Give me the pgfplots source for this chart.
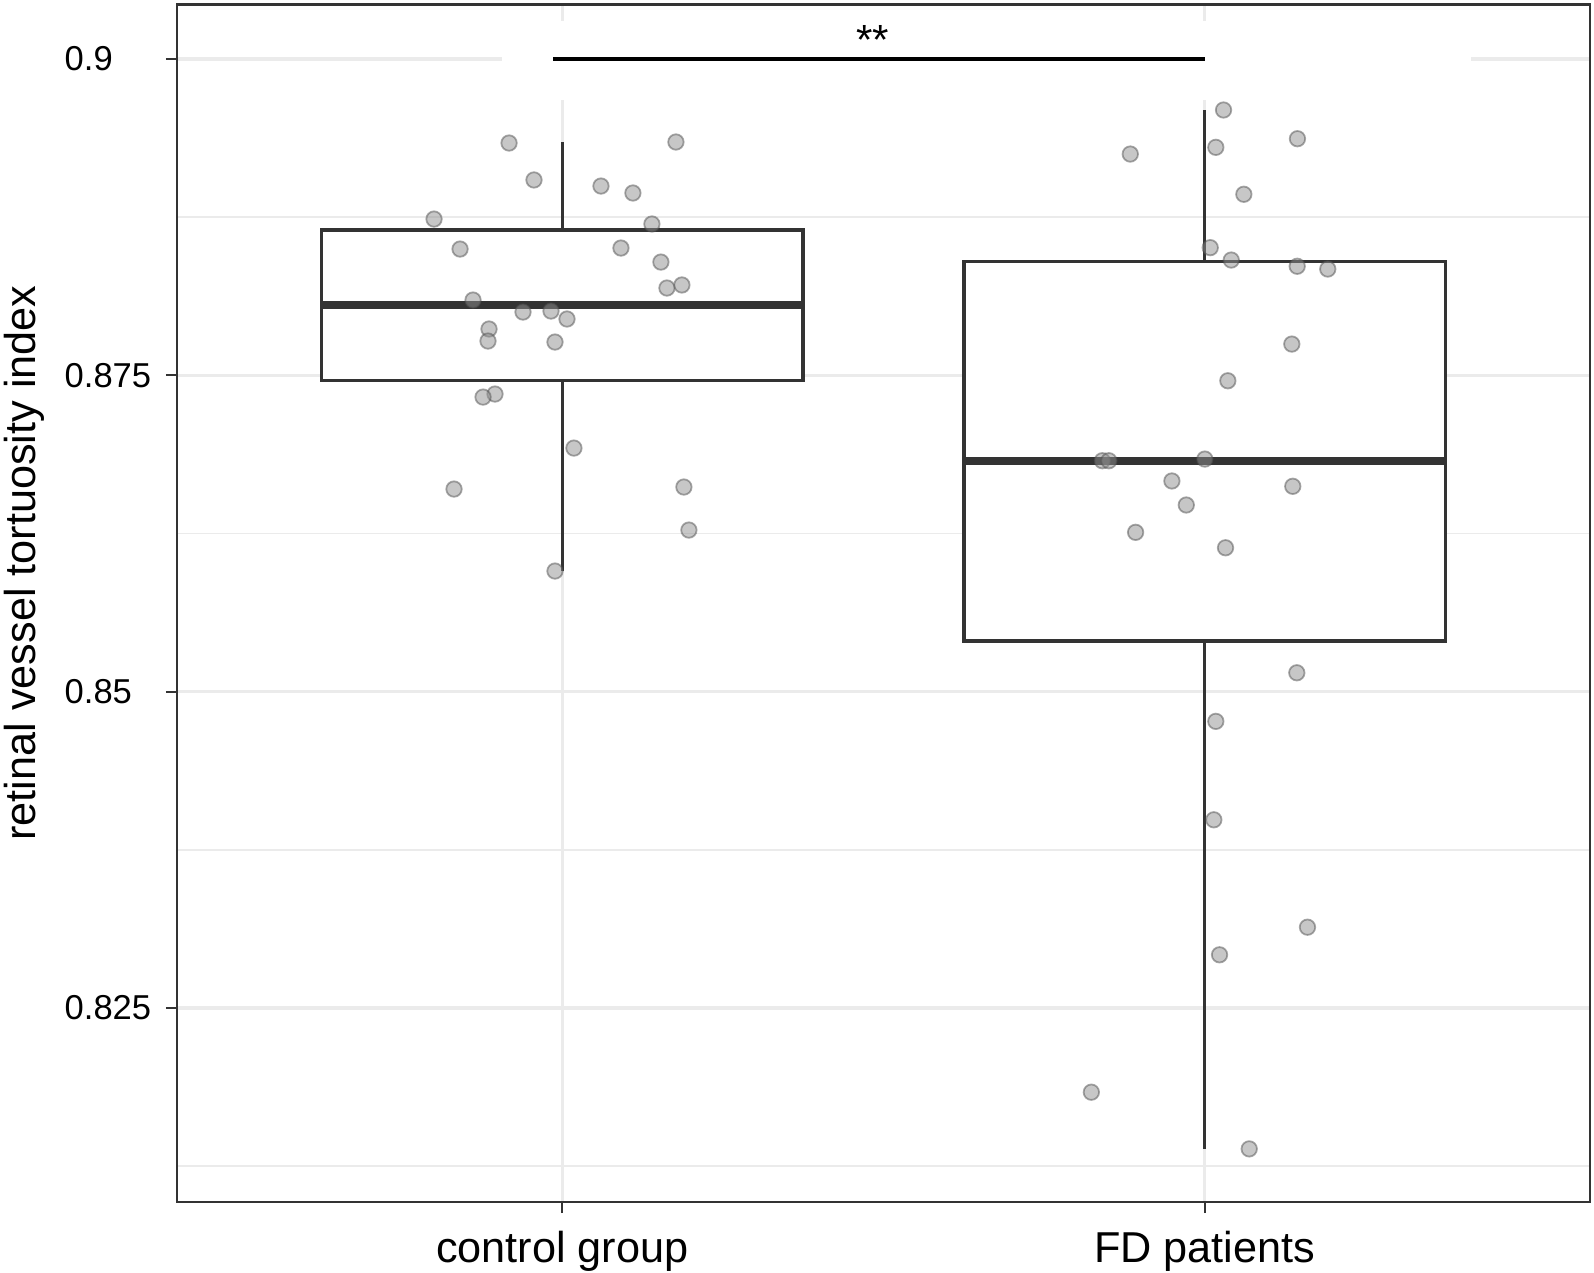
\documentclass[border=0pt]{standalone}
\usepackage{fontspec}
\setmainfont{Liberation Sans}
\usepackage{pgfplots}
\pgfplotsset{compat=1.18}
\definecolor{frame}{HTML}{333333}
\definecolor{gridc}{HTML}{EBEBEB}

\begin{document}
\begin{tikzpicture}
\begin{axis}[
    name=ax,
    scale only axis,
    width=14.13cm, height=11.975cm,
    xmin=0.4, xmax=2.6,
    ymin=0.80966, ymax=0.90431,
    xtick={1,2},
    xticklabels={control group, FD patients},
    ytick={0.825,0.85,0.875,0.9},
    yticklabels={0.825,0.85,0.875,0.9},
    minor ytick={0.8125,0.8375,0.8625,0.8875},
    xmajorgrids, ymajorgrids, yminorgrids,
    major grid style={gridc, line width=1pt},
    minor grid style={gridc, line width=0.5pt},
    tick pos=left, tick align=outside,
    major tick length=0.11cm, minor tick length=0pt,
    tick style={frame, line width=0.5pt},
    axis line style={frame, line width=0.6pt},
    xticklabel style={font=\fontsize{12.3pt}{14pt}\selectfont, anchor=north, inner sep=0pt, yshift=-0.17cm},
    yticklabel style={font=\fontsize{9.83pt}{11pt}\selectfont, anchor=west, inner sep=0pt, xshift=-1.02cm},
    ylabel={retinal vessel tortuosity index},
    ylabel style={font=\fontsize{12.3pt}{14pt}\selectfont, at={(rel axis cs:-0.1228,0.5336)}, anchor=north, inner sep=0pt},
]

% white background behind the significance annotation
\fill[white] (axis cs:0.906,0.89678) rectangle (axis cs:2.4147,0.90297);

% control group: whiskers, box, median
\addplot[draw=frame, line width=1pt] coordinates {(1,0.8865) (1,0.89342)};
\addplot[draw=frame, line width=1pt] coordinates {(1,0.8746) (1,0.85953)};
\addplot[draw=frame, fill=white, line width=1pt] coordinates {
    (0.625,0.8746) (1.375,0.8746) (1.375,0.8865) (0.625,0.8865)} -- cycle;
\addplot[draw=frame, line width=2.3pt] coordinates {(0.625,0.88055) (1.375,0.88055)};

% FD patients: whiskers, box, median
\addplot[draw=frame, line width=1pt] coordinates {(2,0.88400) (2,0.89600)};
\addplot[draw=frame, line width=1pt] coordinates {(2,0.85402) (2,0.81386)};
\addplot[draw=frame, fill=white, line width=1pt] coordinates {
    (1.625,0.85402) (2.375,0.85402) (2.375,0.88400) (1.625,0.88400)} -- cycle;
\addplot[draw=frame, line width=2.3pt] coordinates {(1.625,0.86825) (2.375,0.86825)};

% jittered observations
\addplot[only marks, mark=*, mark size=2.2pt,
    mark options={fill=black!44, draw=black!68, line width=0.5pt, opacity=0.5}] coordinates {
    (0.917,0.89336) (1.1768,0.89344) (0.9558,0.89044) (1.0601,0.88996) (1.1098,0.88941)
    (0.8002,0.88735) (1.1394,0.88696) (0.8407,0.88498) (1.0912,0.88506) (1.1534,0.88395)
    (0.8609,0.88095) (1.1628,0.8819) (1.1861,0.88214) (0.9387,0.88000) (0.9823,0.88008)
    (1.0072,0.87945) (0.8858,0.87866) (0.8842,0.87771) (0.9885,0.87763) (0.8951,0.87352)
    (0.8765,0.87328) (1.018,0.86925) (0.8313,0.86601) (1.1892,0.86617) (1.197,0.86277)
    (0.9885,0.85953)
};
\addplot[only marks, mark=*, mark size=2.2pt,
    mark options={fill=black!44, draw=black!68, line width=0.5pt, opacity=0.5}] coordinates {
    (2.0294,0.89597) (1.8842,0.89249) (2.0174,0.89302) (2.1445,0.8937) (2.061,0.88931)
    (2.0087,0.88509) (2.0414,0.88411) (2.1441,0.88362) (2.1917,0.8834) (2.1357,0.87747)
    (2.0361,0.87457) (1.8407,0.86825) (1.8509,0.86825) (2.0003,0.86838) (1.949,0.86665)
    (2.1372,0.86623) (1.9714,0.86475) (1.8925,0.86259) (2.0325,0.86137) (2.1435,0.85149)
    (2.0174,0.84765) (2.0143,0.83987) (2.1601,0.83138) (2.0232,0.8292) (1.8236,0.81834)
    (2.0694,0.81386)
};

% significance bar
\draw[black, line width=1.1pt] (axis cs:0.986,0.9) -- (axis cs:2.0,0.9);
\node[anchor=base, inner sep=0pt, font=\fontsize{12pt}{14pt}\selectfont] at (axis cs:1.483,0.90032) {**};
\end{axis}
\path ([xshift=-1.77cm,yshift=-0.70cm]ax.south west) rectangle ([xshift=0.04cm,yshift=0.045cm]ax.north east);
\end{tikzpicture}
\end{document}
